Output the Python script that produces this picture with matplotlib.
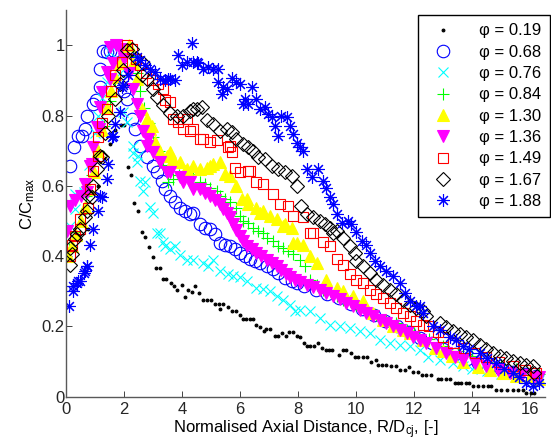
import numpy as np
import matplotlib
matplotlib.use('Agg')
import matplotlib.pyplot as plt

plt.rcParams['font.family'] = ['Liberation Sans', 'DejaVu Sans']
plt.rcParams['mathtext.fontset'] = 'custom'
plt.rcParams['mathtext.rm'] = 'Liberation Sans'
plt.rcParams['mathtext.it'] = 'Liberation Sans:italic'

# (R/Dcj, C/Cmax) pairs, one list per equivalence ratio
phi_019 = [(0.1, 0.42), (0.4, 0.45), (0.75, 0.476), (1.1, 0.6), (1.3, 0.68), (1.5, 0.72), (1.7, 0.76),
           (1.88, 0.773), (2.0, 0.773), (2.13, 0.653), (2.24, 0.631), (2.34, 0.55), (2.47, 0.529), (2.6, 0.469),
           (2.72, 0.455), (2.87, 0.427), (2.98, 0.397), (3.1, 0.366), (3.22, 0.366), (3.35, 0.335), (3.45, 0.335),
           (3.6, 0.324), (3.72, 0.314), (3.82, 0.305), (3.99, 0.317), (4.1, 0.284), (4.21, 0.305), (4.33, 0.297),
           (4.44, 0.314), (4.59, 0.295), (4.73, 0.276), (4.86, 0.276), (4.98, 0.276), (5.13, 0.265), (5.27, 0.265),
           (5.3, 0.25), (5.4, 0.265), (5.59, 0.255), (5.7, 0.243), (5.85, 0.243), (5.99, 0.233), (6.1, 0.221),
           (6.2, 0.221), (6.33, 0.221), (6.45, 0.221), (6.56, 0.205), (6.68, 0.198), (6.82, 0.186), (6.9, 0.193),
           (7.03, 0.193), (7.19, 0.173), (7.31, 0.173), (7.44, 0.181), (7.57, 0.173), (7.67, 0.183), (7.81, 0.183),
           (7.94, 0.173), (8.06, 0.171), (8.2, 0.153), (8.31, 0.143), (8.42, 0.143), (8.54, 0.143), (8.68, 0.153),
           (8.82, 0.138), (8.94, 0.133), (9.05, 0.133), (9.17, 0.133), (9.41, 0.119), (9.55, 0.133), (9.66, 0.133),
           (9.81, 0.124), (9.95, 0.112), (10.06, 0.112), (10.23, 0.112), (10.37, 0.112), (10.52, 0.1), (10.69, 0.105),
           (10.75, 0.091), (10.9, 0.091), (11.04, 0.091), (11.21, 0.086), (11.36, 0.086), (11.5, 0.076),
           (11.67, 0.076), (11.8, 0.084), (11.96, 0.071), (12.13, 0.071), (12.28, 0.062), (12.41, 0.062),
           (12.59, 0.062), (12.82, 0.05), (12.93, 0.05), (13.1, 0.05), (13.22, 0.05), (13.39, 0.04), (13.5, 0.04),
           (13.62, 0.04), (13.79, 0.04), (13.9, 0.04), (14.02, 0.031), (14.2, 0.031), (14.37, 0.031), (14.54, 0.031),
           (14.65, 0.031), (14.82, 0.019), (15.0, 0.019), (15.2, 0.019), (15.4, 0.019), (15.57, 0.019), (15.74, 0.019),
           (15.86, 0.01), (16.03, 0.01), (16.14, 0.01)]

phi_068 = [(0.14, 0.657), (0.28, 0.71), (0.42, 0.743), (0.54, 0.743), (0.65, 0.762), (0.73, 0.8), (0.94, 0.833),
           (1.03, 0.843), (1.17, 0.881), (1.17, 0.933), (1.26, 0.983), (1.4, 0.981), (1.51, 0.983), (1.66, 0.983),
           (2.0, 0.87), (2.09, 0.848), (2.26, 0.79), (2.38, 0.762), (2.55, 0.714), (2.78, 0.681), (3.0, 0.657),
           (3.12, 0.638), (3.29, 0.614), (3.41, 0.59), (3.58, 0.571), (3.75, 0.553), (3.92, 0.538), (4.1, 0.529),
           (4.27, 0.519), (4.38, 0.524), (4.61, 0.49), (4.78, 0.481), (4.96, 0.476), (5.13, 0.462), (5.3, 0.438),
           (5.47, 0.433), (5.65, 0.429), (5.82, 0.419), (5.99, 0.41), (6.16, 0.4), (6.33, 0.391), (6.51, 0.386),
           (6.68, 0.381), (6.91, 0.371), (7.14, 0.362), (7.31, 0.352), (7.54, 0.338), (7.77, 0.329), (7.94, 0.324),
           (8.2, 0.315), (8.6, 0.305), (9.0, 0.293), (9.4, 0.28), (9.8, 0.265), (10.2, 0.25), (10.6, 0.232),
           (11.0, 0.215), (11.4, 0.2), (11.8, 0.183), (12.2, 0.167), (12.6, 0.152), (13.0, 0.137), (13.4, 0.122),
           (13.8, 0.108), (14.2, 0.097), (14.6, 0.087), (15.0, 0.078), (15.4, 0.071), (15.8, 0.065), (16.2, 0.06)]

phi_076 = [(0.14, 0.486), (0.31, 0.533), (0.31, 0.576), (0.6, 0.581), (0.8, 0.66), (1.0, 0.75), (1.11, 0.8),
           (1.25, 0.85), (1.4, 0.895), (1.51, 0.98), (1.7, 1.0), (1.85, 0.92), (1.97, 0.81), (2.09, 0.781),
           (2.29, 0.693), (2.32, 0.714), (2.43, 0.667), (2.49, 0.686), (2.55, 0.614), (2.66, 0.586), (2.72, 0.61),
           (2.89, 0.54), (3.0, 0.524), (3.12, 0.467), (3.24, 0.465), (3.35, 0.44), (3.41, 0.429), (3.58, 0.419),
           (3.75, 0.429), (3.92, 0.402), (4.15, 0.39), (4.38, 0.389), (4.73, 0.381), (4.9, 0.371), (5.07, 0.39),
           (5.3, 0.357), (5.59, 0.35), (5.76, 0.343), (5.99, 0.341), (6.22, 0.329), (6.56, 0.31), (6.79, 0.307),
           (7.02, 0.3), (7.25, 0.286), (7.48, 0.276), (7.71, 0.262), (7.88, 0.243), (8.06, 0.248), (8.4, 0.243),
           (8.74, 0.224), (9.08, 0.205), (9.43, 0.2), (9.78, 0.195), (10.12, 0.186), (10.46, 0.181), (10.81, 0.162),
           (11.15, 0.153), (11.5, 0.148), (11.84, 0.143), (12.19, 0.133), (12.47, 0.114), (12.87, 0.105),
           (13.33, 0.095), (13.68, 0.086), (14.0, 0.08), (14.5, 0.072), (15.0, 0.065), (15.5, 0.058), (16.0, 0.052),
           (16.3, 0.048)]

phi_084 = [(0.1, 0.42), (0.3, 0.47), (0.5, 0.52), (0.7, 0.57), (0.9, 0.63), (1.1, 0.7), (1.3, 0.77), (1.5, 0.84),
           (1.7, 0.9), (1.9, 0.95), (2.1, 0.99), (2.3, 0.97), (2.45, 0.92), (2.55, 0.871), (2.7, 0.82), (2.85, 0.78),
           (3.0, 0.74), (3.2, 0.7), (3.35, 0.66), (3.52, 0.61), (3.7, 0.62), (3.9, 0.63), (4.1, 0.63), (4.38, 0.633),
           (4.61, 0.61), (4.78, 0.605), (4.96, 0.595), (5.19, 0.586), (5.3, 0.571), (5.47, 0.562), (5.65, 0.553),
           (5.87, 0.538), (5.99, 0.514), (6.1, 0.5), (6.28, 0.495), (6.45, 0.481), (6.62, 0.471), (6.79, 0.467),
           (6.91, 0.452), (7.14, 0.443), (7.31, 0.429), (7.48, 0.424), (7.65, 0.414), (7.82, 0.405), (8.06, 0.39),
           (8.22, 0.371), (8.4, 0.333), (8.63, 0.319), (8.86, 0.305), (9.09, 0.3), (9.32, 0.286), (9.55, 0.276),
           (9.78, 0.271), (10.0, 0.262), (10.35, 0.248), (10.69, 0.233), (11.04, 0.219), (11.38, 0.21),
           (11.73, 0.19), (12.0, 0.18), (12.5, 0.165), (13.0, 0.145), (13.5, 0.13), (14.0, 0.115), (14.5, 0.1),
           (15.0, 0.09), (15.5, 0.08), (16.0, 0.07), (16.3, 0.065)]

phi_130 = [(0.08, 0.4), (0.2, 0.43), (0.35, 0.46), (0.5, 0.5), (0.65, 0.54), (0.8, 0.59), (0.95, 0.64), (1.1, 0.7),
           (1.25, 0.76), (1.4, 0.82), (1.55, 0.87), (1.7, 0.91), (1.85, 0.95), (2.0, 0.98), (2.15, 1.0), (2.3, 0.95),
           (2.43, 0.905), (2.6, 0.819), (2.78, 0.79), (2.89, 0.762), (2.95, 0.771), (3.06, 0.724), (3.24, 0.695),
           (3.47, 0.686), (3.58, 0.695), (3.69, 0.676), (3.92, 0.667), (4.1, 0.643), (4.15, 0.648), (4.38, 0.657),
           (4.61, 0.648), (4.84, 0.652), (4.96, 0.657), (5.07, 0.662), (5.3, 0.667), (5.47, 0.633), (5.65, 0.629),
           (5.87, 0.6), (6.05, 0.562), (6.22, 0.562), (6.28, 0.548), (6.56, 0.538), (6.68, 0.524), (6.79, 0.529),
           (7.02, 0.514), (7.25, 0.505), (7.48, 0.486), (7.54, 0.491), (7.77, 0.481), (7.82, 0.438), (7.94, 0.438),
           (8.17, 0.433), (8.4, 0.4), (8.63, 0.381), (8.97, 0.333), (9.32, 0.31), (9.55, 0.3), (9.89, 0.286),
           (10.23, 0.271), (10.58, 0.238), (10.92, 0.219), (11.27, 0.2), (11.61, 0.19), (11.84, 0.181), (12.3, 0.16),
           (12.7, 0.14), (13.0, 0.13), (13.3, 0.115), (13.68, 0.1), (14.2, 0.085), (14.6, 0.076), (15.05, 0.067),
           (15.5, 0.06), (16.0, 0.055), (16.3, 0.05)]

phi_136 = [(0.02, 0.471), (0.14, 0.543), (0.3, 0.56), (0.5, 0.57), (0.65, 0.605), (0.71, 0.581), (0.83, 0.657),
           (0.88, 0.662), (0.94, 0.71), (1.06, 0.767), (1.15, 0.762), (1.17, 0.824), (1.23, 0.867), (1.4, 0.924),
           (1.51, 0.905), (1.51, 0.995), (1.63, 0.948), (1.72, 1.0), (1.85, 0.99), (2.0, 0.96), (2.15, 0.92),
           (2.32, 0.876), (2.43, 0.833), (2.55, 0.8), (2.66, 0.757), (2.78, 0.714), (2.83, 0.733), (3.0, 0.695),
           (3.24, 0.667), (3.47, 0.638), (3.58, 0.638), (3.92, 0.624), (4.04, 0.61), (4.27, 0.61), (4.38, 0.591),
           (4.61, 0.59), (4.78, 0.58), (4.96, 0.571), (5.13, 0.56), (5.3, 0.548), (5.42, 0.535), (5.53, 0.524),
           (5.65, 0.51), (5.76, 0.491), (5.87, 0.475), (5.99, 0.457), (6.1, 0.443), (6.22, 0.429), (6.39, 0.42),
           (6.56, 0.41), (6.73, 0.4), (6.91, 0.39), (7.08, 0.38), (7.25, 0.371), (7.42, 0.36), (7.59, 0.348),
           (7.73, 0.34), (7.88, 0.333), (8.05, 0.327), (8.29, 0.319), (8.5, 0.312), (8.74, 0.305), (8.97, 0.295),
           (9.2, 0.286), (9.43, 0.277), (9.66, 0.267), (9.89, 0.258), (10.12, 0.248), (10.35, 0.238), (10.58, 0.229),
           (10.81, 0.219), (11.04, 0.21), (11.27, 0.2), (11.5, 0.19), (11.73, 0.18), (11.96, 0.171), (12.19, 0.162),
           (12.41, 0.152), (12.75, 0.138), (13.1, 0.124), (13.4, 0.114), (13.68, 0.105), (14.08, 0.095),
           (14.48, 0.086), (14.88, 0.076), (15.28, 0.067), (15.7, 0.062), (16.14, 0.057), (16.3, 0.055)]

phi_149 = [(0.14, 0.4), (0.19, 0.433), (0.31, 0.457), (0.48, 0.476), (0.48, 0.505), (0.77, 0.538), (0.83, 0.59),
           (0.94, 0.643), (1.11, 0.686), (1.11, 0.738), (1.25, 0.78), (1.4, 0.819), (1.55, 0.87), (1.69, 0.914),
           (1.92, 0.952), (2.09, 1.0), (2.26, 0.99), (2.4, 0.96), (2.55, 0.943), (2.75, 0.92), (2.95, 0.9),
           (3.15, 0.89), (3.35, 0.876), (3.41, 0.843), (3.58, 0.838), (3.69, 0.79), (3.87, 0.781), (4.04, 0.762),
           (4.15, 0.79), (4.27, 0.757), (4.38, 0.762), (4.61, 0.733), (4.73, 0.733), (4.96, 0.724), (5.19, 0.729),
           (5.59, 0.71), (5.65, 0.714), (5.7, 0.695), (5.82, 0.652), (5.99, 0.638), (6.28, 0.643), (6.33, 0.643),
           (6.56, 0.61), (6.79, 0.605), (7.14, 0.576), (7.37, 0.548), (7.65, 0.543), (7.82, 0.514), (8.17, 0.51),
           (8.4, 0.467), (8.51, 0.467), (8.86, 0.44), (9.09, 0.43), (9.32, 0.391), (9.55, 0.376), (9.78, 0.348),
           (10.0, 0.333), (10.23, 0.324), (10.46, 0.305), (10.69, 0.291), (10.92, 0.281), (11.15, 0.267),
           (11.38, 0.252), (11.61, 0.238), (11.84, 0.229), (12.07, 0.214), (12.3, 0.205), (12.5, 0.2), (12.8, 0.185),
           (13.0, 0.17), (13.33, 0.152), (13.7, 0.14), (14.1, 0.125), (14.48, 0.114), (14.9, 0.1), (15.4, 0.086),
           (15.8, 0.075), (16.2, 0.067)]

phi_167 = [(0.14, 0.376), (0.14, 0.424), (0.19, 0.405), (0.31, 0.448), (0.37, 0.462), (0.48, 0.476), (0.65, 0.51),
           (0.71, 0.529), (0.77, 0.571), (0.88, 0.567), (0.94, 0.6), (1.06, 0.648), (1.17, 0.686), (1.23, 0.681),
           (1.35, 0.75), (1.46, 0.8), (1.69, 0.848), (1.85, 0.89), (1.97, 0.929), (2.09, 0.986), (2.26, 0.99),
           (2.4, 0.965), (2.61, 0.914), (2.66, 0.948), (2.78, 0.905), (3.0, 0.876), (3.12, 0.852), (3.35, 0.829),
           (3.58, 0.808), (3.81, 0.8), (4.04, 0.8), (4.27, 0.814), (4.38, 0.819), (4.5, 0.819), (4.67, 0.824),
           (4.84, 0.786), (5.07, 0.776), (5.3, 0.757), (5.53, 0.762), (5.7, 0.752), (5.87, 0.733), (6.1, 0.719),
           (6.28, 0.71), (6.45, 0.7), (6.62, 0.681), (6.85, 0.676), (7.08, 0.657), (7.31, 0.648), (7.54, 0.638),
           (7.77, 0.629), (7.94, 0.6), (8.11, 0.543), (8.29, 0.519), (8.51, 0.51), (8.74, 0.5), (8.92, 0.491),
           (9.09, 0.481), (9.2, 0.467), (9.32, 0.471), (9.55, 0.452), (9.78, 0.43), (9.95, 0.41), (10.0, 0.386),
           (10.23, 0.371), (10.46, 0.352), (10.69, 0.333), (10.92, 0.319), (11.15, 0.305), (11.38, 0.291),
           (11.61, 0.276), (11.84, 0.262), (12.07, 0.252), (12.3, 0.243), (12.41, 0.229), (12.87, 0.21),
           (13.1, 0.198), (13.33, 0.186), (13.56, 0.178), (13.79, 0.171), (14.02, 0.16), (14.25, 0.148),
           (14.48, 0.136), (14.71, 0.124), (14.94, 0.117), (15.17, 0.11), (15.4, 0.103), (15.63, 0.095),
           (15.86, 0.09), (16.09, 0.086), (16.14, 0.067)]

phi_188 = [(0.11, 0.257), (0.23, 0.3), (0.25, 0.314), (0.39, 0.324), (0.42, 0.329), (0.48, 0.329), (0.6, 0.352),
           (0.65, 0.357), (0.71, 0.371), (0.73, 0.373), (0.83, 0.433), (0.94, 0.476), (1.11, 0.529), (1.17, 0.571),
           (1.23, 0.567), (1.4, 0.619), (1.46, 0.662), (1.57, 0.738), (1.63, 0.743), (1.69, 0.776), (1.86, 0.81),
           (1.92, 0.881), (1.97, 0.886), (2.14, 0.914), (2.43, 0.967), (2.55, 0.957), (2.72, 0.943), (2.89, 0.933),
           (3.06, 0.924), (3.24, 0.905), (3.41, 0.9), (3.52, 0.905), (3.58, 0.905), (3.75, 0.9), (3.87, 0.971),
           (3.98, 0.943), (4.15, 0.952), (4.33, 1.005), (4.38, 0.952), (4.5, 0.952), (4.56, 0.948), (4.73, 0.933),
           (4.9, 0.938), (5.07, 0.933), (5.24, 0.933), (5.24, 0.895), (5.36, 0.862), (5.42, 0.881), (5.53, 0.876),
           (5.7, 0.907), (5.87, 0.895), (5.99, 0.891), (6.1, 0.833), (6.16, 0.848), (6.28, 0.833), (6.39, 0.881),
           (6.56, 0.848), (6.68, 0.819), (6.85, 0.824), (6.96, 0.805), (7.08, 0.795), (7.19, 0.771), (7.31, 0.743),
           (7.42, 0.8), (7.6, 0.795), (7.71, 0.771), (7.82, 0.748), (7.94, 0.721), (8.06, 0.71), (8.17, 0.7),
           (8.29, 0.648), (8.46, 0.624), (8.68, 0.648), (8.86, 0.614), (8.97, 0.595), (9.09, 0.567), (9.2, 0.548),
           (9.32, 0.519), (9.49, 0.495), (9.72, 0.5), (9.83, 0.49), (10.0, 0.469), (10.18, 0.443), (10.35, 0.433),
           (10.46, 0.41), (10.64, 0.386), (10.81, 0.371), (11.04, 0.357), (11.27, 0.343), (11.5, 0.324),
           (11.67, 0.295), (11.84, 0.271), (12.07, 0.257), (12.19, 0.257), (12.3, 0.238), (12.64, 0.2), (12.9, 0.19),
           (13.22, 0.171), (13.45, 0.16), (13.68, 0.143), (13.9, 0.135), (14.25, 0.124), (14.5, 0.11),
           (14.82, 0.095), (15.1, 0.08), (15.4, 0.067), (15.6, 0.055), (15.86, 0.038), (16.09, 0.03), (16.3, 0.04)]

labels = ['0.19', '0.68', '0.76', '0.84', '1.30', '1.36', '1.49', '1.67', '1.88']
series = [phi_019, phi_068, phi_076, phi_084, phi_130, phi_136, phi_149, phi_167, phi_188]

# matlab-ish marker styles: (marker, colour, size, filled)
styles = [('.', '#000000', 4, True),
          ('o', '#0000ff', 9, False),
          ('x', '#00ffff', 7.5, False),
          ('+', '#00ff00', 8.5, False),
          ('^', '#ffff00', 9, True),
          ('v', '#ff00ff', 9, True),
          ('s', '#ff0000', 7.5, False),
          ('D', '#000000', 7, False),
          ((8, 2, 0), '#0000ff', 9, False)]

fig = plt.figure(figsize=(5.51, 4.47), dpi=100)
ax = fig.add_axes([0.12, 0.1125, 0.869, 0.865])

for lab, pts, (mk, col, ms, filled) in zip(labels, series, styles):
    x, y = np.array(pts).T
    ax.plot(x, y, linestyle='none', marker=mk, markersize=ms, markeredgewidth=0.8,
            color=col, markerfacecolor=col if filled else 'none',
            label='\u03c6 = ' + lab)

ax.set_xlim(0, 16.5)
ax.set_ylim(0, 1.1)
ax.set_xticks(np.arange(0, 17, 2))
ax.set_yticks([0, 0.2, 0.4, 0.6, 0.8, 1])
ax.set_yticklabels(['0', '0.2', '0.4', '0.6', '0.8', '1'])
ax.tick_params(direction='in', length=4, width=0.6, labelsize=12, colors='0.15')
ax.tick_params(axis='y', pad=1)
for s in ['top', 'right']:
    ax.spines[s].set_visible(False)
for s in ['left', 'bottom']:
    ax.spines[s].set_color('0.35')
    ax.spines[s].set_linewidth(1.0)

ax.set_xlabel('Normalised Axial Distance, R/D$_{\\mathrm{cj}}$, [-]', fontsize=12, labelpad=1)
ax.set_ylabel('C/C$_{\\mathrm{max}}$', fontsize=12, labelpad=3)

leg = ax.legend(loc='upper right', bbox_to_anchor=(550 / 551, 1 - 15 / 447),
                bbox_transform=fig.transFigure, fontsize=12, numpoints=1,
                fancybox=False, framealpha=1, edgecolor='k', borderaxespad=0,
                labelspacing=0.38, handletextpad=1.2, borderpad=0.5)
leg.get_frame().set_linewidth(1.0)

fig.savefig('out.png', dpi=100)
